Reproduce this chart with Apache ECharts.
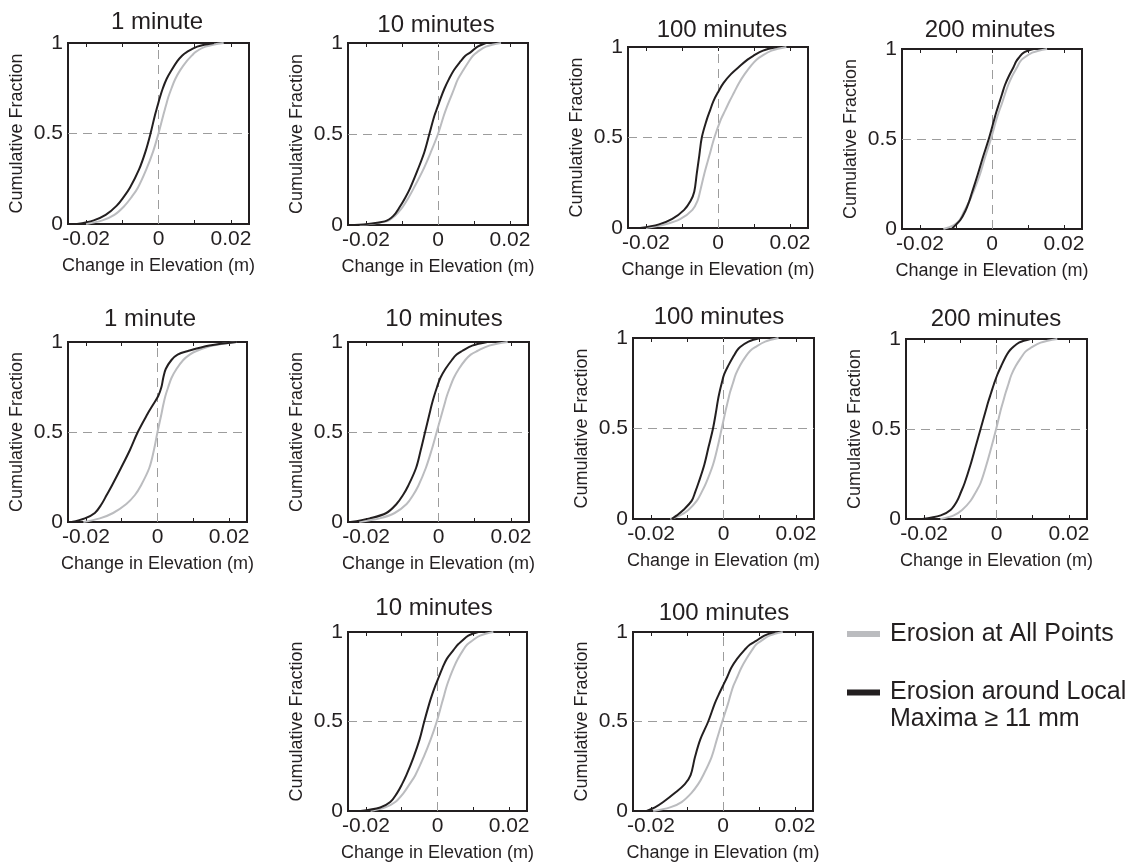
<!DOCTYPE html>
<html>
<head>
<meta charset="utf-8">
<script src="https://cdn.jsdelivr.net/npm/echarts@6/dist/echarts.min.js"></script>
<style>
html,body{margin:0;padding:0;background:#fff;}
#chart{width:1144px;height:865px;}
</style>
</head>
<body>
<div id="chart"></div>
<script>
// ---------- DATA ----------
// cumulative fraction levels (y) shared by every curve
const cdfLevels = [0, 0.02, 0.05, 0.1, 0.15, 0.2, 0.3, 0.4, 0.5, 0.6, 0.65, 0.7, 0.75, 0.8, 0.85, 0.9, 0.93, 0.95, 0.98, 1];

const panelTitles = ['1 minute', '10 minutes', '100 minutes', '200 minutes',
                     '1 minute', '10 minutes', '100 minutes', '200 minutes',
                     '10 minutes', '100 minutes'];

const seriesNames = ['Erosion at All Points', 'Erosion around Local Maxima \u2265 11 mm'];

// change in elevation (m) at each cumulative level — "all points" (gray) / "local maxima" (black)
const allR1_1 = [-0.0200,-0.0155,-0.0122,-0.0094,-0.0074,-0.0057,-0.0034,-0.0015,0.0000,0.0013,0.0020,0.0027,0.0036,0.0046,0.0060,0.0078,0.0092,0.0102,0.0130,0.0180];
const maxR1_1 = [-0.0225,-0.0179,-0.0146,-0.0116,-0.0096,-0.0079,-0.0054,-0.0036,-0.0022,-0.0010,-0.0003,0.0004,0.0012,0.0022,0.0036,0.0052,0.0065,0.0078,0.0107,0.0153];
const allR1_10 = [-0.0218,-0.0143,-0.0120,-0.0098,-0.0082,-0.0068,-0.0042,-0.0020,0.0000,0.0016,0.0025,0.0035,0.0045,0.0055,0.0070,0.0086,0.0097,0.0109,0.0133,0.0175];
const maxR1_10 = [-0.0232,-0.0148,-0.0124,-0.0106,-0.0091,-0.0078,-0.0057,-0.0038,-0.0024,-0.0010,-0.0001,0.0008,0.0018,0.0030,0.0044,0.0063,0.0076,0.0091,0.0110,0.0133];
const allR1_100 = [-0.0200,-0.0146,-0.0104,-0.0071,-0.0057,-0.0050,-0.0038,-0.0024,-0.0010,0.0008,0.0020,0.0032,0.0045,0.0058,0.0074,0.0093,0.0107,0.0121,0.0149,0.0190];
const maxR1_100 = [-0.0216,-0.0164,-0.0127,-0.0094,-0.0076,-0.0066,-0.0059,-0.0052,-0.0045,-0.0031,-0.0022,-0.0013,0.0000,0.0015,0.0036,0.0064,0.0082,0.0097,0.0125,0.0163];
const allR1_200 = [-0.0135,-0.0107,-0.0090,-0.0077,-0.0064,-0.0053,-0.0034,-0.0019,-0.0003,0.0011,0.0019,0.0028,0.0036,0.0045,0.0056,0.0070,0.0078,0.0088,0.0112,0.0153];
const maxR1_200 = [-0.0112,-0.0102,-0.0088,-0.0074,-0.0064,-0.0056,-0.0040,-0.0025,-0.0009,0.0005,0.0012,0.0020,0.0028,0.0036,0.0047,0.0060,0.0067,0.0074,0.0088,0.0116];

const allR2_1 = [-0.0207,-0.0161,-0.0124,-0.0087,-0.0063,-0.0047,-0.0023,-0.0010,0.0000,0.0011,0.0016,0.0022,0.0030,0.0039,0.0053,0.0072,0.0090,0.0109,0.0155,0.0220];
const maxR2_1 = [-0.0240,-0.0203,-0.0175,-0.0156,-0.0142,-0.0128,-0.0102,-0.0077,-0.0055,-0.0028,-0.0013,0.0002,0.0011,0.0016,0.0023,0.0039,0.0056,0.0085,0.0145,0.0220];
const allR2_10 = [-0.0219,-0.0163,-0.0121,-0.0088,-0.0070,-0.0056,-0.0035,-0.0019,-0.0005,0.0009,0.0016,0.0023,0.0032,0.0042,0.0056,0.0074,0.0089,0.0107,0.0140,0.0191];
const maxR2_10 = [-0.0243,-0.0190,-0.0144,-0.0116,-0.0098,-0.0084,-0.0062,-0.0049,-0.0037,-0.0025,-0.0019,-0.0012,-0.0004,0.0005,0.0019,0.0037,0.0050,0.0065,0.0093,0.0135];
const allR2_100 = [-0.0147,-0.0120,-0.0097,-0.0074,-0.0060,-0.0048,-0.0029,-0.0016,-0.0005,0.0006,0.0012,0.0018,0.0026,0.0034,0.0046,0.0062,0.0074,0.0088,0.0115,0.0152];
const maxR2_100 = [-0.0143,-0.0129,-0.0111,-0.0088,-0.0078,-0.0069,-0.0053,-0.0041,-0.0029,-0.0020,-0.0016,-0.0011,-0.0005,0.0002,0.0014,0.0028,0.0037,0.0046,0.0069,0.0101];
const allR2_200 = [-0.0155,-0.0118,-0.0095,-0.0072,-0.0057,-0.0044,-0.0028,-0.0014,-0.0001,0.0011,0.0018,0.0025,0.0033,0.0041,0.0053,0.0069,0.0080,0.0094,0.0122,0.0168];
const maxR2_200 = [-0.0205,-0.0154,-0.0127,-0.0109,-0.0098,-0.0088,-0.0072,-0.0058,-0.0044,-0.0030,-0.0023,-0.0015,-0.0007,0.0002,0.0013,0.0025,0.0034,0.0043,0.0062,0.0094];

const allR3_10 = [-0.0187,-0.0146,-0.0118,-0.0095,-0.0078,-0.0062,-0.0039,-0.0019,-0.0002,0.0012,0.0019,0.0026,0.0035,0.0045,0.0057,0.0072,0.0083,0.0096,0.0119,0.0156];
const maxR3_10 = [-0.0215,-0.0160,-0.0132,-0.0113,-0.0099,-0.0087,-0.0067,-0.0050,-0.0037,-0.0023,-0.0015,-0.0006,0.0004,0.0014,0.0026,0.0045,0.0057,0.0068,0.0086,0.0114];
const allR3_100 = [-0.0194,-0.0147,-0.0115,-0.0088,-0.0069,-0.0055,-0.0032,-0.0017,-0.0002,0.0014,0.0021,0.0029,0.0040,0.0051,0.0065,0.0081,0.0092,0.0106,0.0129,0.0166];
const maxR3_100 = [-0.0212,-0.0189,-0.0166,-0.0134,-0.0106,-0.0090,-0.0078,-0.0063,-0.0041,-0.0023,-0.0012,0.0000,0.0012,0.0023,0.0039,0.0060,0.0075,0.0092,0.0115,0.0143];

const panelAll = [allR1_1, allR1_10, allR1_100, allR1_200, allR2_1, allR2_10, allR2_100, allR2_200, allR3_10, allR3_100];
const panelMax = [maxR1_1, maxR1_10, maxR1_100, maxR1_200, maxR2_1, maxR2_10, maxR2_100, maxR2_200, maxR3_10, maxR3_100];

const xTickValues = [-0.02, -0.01, 0, 0.01, 0.02];
const xLabelValues = [-0.02, 0, 0.02];
const yLabelValues = [0, 0.5, 1];
const xName = 'Change in Elevation (m)';
const yName = 'Cumulative Fraction';

// ---------- LAYOUT (pixels) ----------
const gridBoxes = [
  [68, 43, 181, 181], [348, 43, 180, 182], [628, 47, 180, 181], [902, 49, 180, 180],
  [68, 342, 179, 180], [348, 342, 181, 180], [633, 338, 181, 181], [906, 339, 181, 180],
  [348, 632, 179, 179], [633, 632, 180, 179]
];
const titlePos = [
  [157, 22], [436, 25], [722, 30], [990, 30],
  [150, 319], [444, 319], [719, 317], [996, 319],
  [434, 608], [724, 613]
];

const INK = '#231f20';
const GRAY = '#bbbcbf';
const FONT = "'Liberation Sans', Arial, Helvetica, sans-serif";

const grids = [], xAxes = [], yAxes = [], series = [], titles = [];
const fmtX = v => (Math.abs(v) < 1e-9 ? '0' : v.toFixed(2));

gridBoxes.forEach((b, i) => {
  grids.push({ left: b[0], top: b[1], width: b[2], height: b[3], show: true,
               borderColor: INK, borderWidth: 2, backgroundColor: 'transparent' });
  // bottom x axis
  xAxes.push({
    type: 'value', gridIndex: i, min: -0.025, max: 0.025, position: 'bottom',
    name: xName, nameLocation: 'middle', nameGap: 33,
    nameTextStyle: { fontFamily: FONT, fontSize: 18, color: INK },
    axisLine: { show: false },
    axisTick: { show: true, inside: true, length: 4, customValues: xTickValues,
                lineStyle: { color: INK, width: 1 } },
    axisLabel: { show: true, customValues: xLabelValues, formatter: fmtX, margin: 5,
                 fontFamily: FONT, fontSize: 21, color: INK },
    splitLine: { show: false }
  });
  // top x axis (ticks only)
  xAxes.push({
    type: 'value', gridIndex: i, min: -0.025, max: 0.025, position: 'top',
    axisLine: { show: false },
    axisTick: { show: true, inside: true, length: 4, customValues: xTickValues,
                lineStyle: { color: INK, width: 1 } },
    axisLabel: { show: false },
    splitLine: { show: false }
  });
  yAxes.push({
    type: 'value', gridIndex: i, min: 0, max: 1,
    name: yName, nameLocation: 'middle', nameGap: 42,
    nameTextStyle: { fontFamily: FONT, fontSize: 18, color: INK },
    axisLine: { show: false },
    axisTick: { show: false },
    axisLabel: { show: true, customValues: yLabelValues, margin: 5,
                 formatter: v => String(v),
                 fontFamily: FONT, fontSize: 21, color: INK },
    splitLine: { show: false }
  });
  titles.push({
    text: panelTitles[i], left: titlePos[i][0], top: titlePos[i][1],
    textAlign: 'center', textVerticalAlign: 'middle', padding: 0,
    textStyle: { fontFamily: FONT, fontSize: 24, fontWeight: 'normal', color: INK }
  });
  const toPts = xs => cdfLevels.map((f, k) => [xs[k], f]);
  series.push({
    name: seriesNames[0], type: 'line', xAxisIndex: 2 * i, yAxisIndex: i,
    data: toPts(panelAll[i]), smooth: 0.35, showSymbol: false, symbol: 'none',
    lineStyle: { color: GRAY, width: 2 }, itemStyle: { color: GRAY }, z: 3,
    markLine: {
      silent: true, symbol: 'none', z: 1, animation: false,
      label: { show: false },
      lineStyle: { color: '#9d9d9d', width: 1, type: [9, 6] },
      data: [{ xAxis: 0 }, { yAxis: 0.5 }]
    }
  });
  series.push({
    name: seriesNames[1], type: 'line', xAxisIndex: 2 * i, yAxisIndex: i,
    data: toPts(panelMax[i]), smooth: 0.35, showSymbol: false, symbol: 'none',
    lineStyle: { color: INK, width: 2 }, itemStyle: { color: INK }, z: 4
  });
});

const chart = echarts.init(document.getElementById('chart'), null, { renderer: 'canvas' });
chart.setOption({
  animation: false,
  backgroundColor: '#ffffff',
  title: titles,
  grid: grids,
  xAxis: xAxes,
  yAxis: yAxes,
  legend: [
    { data: [seriesNames[0]], left: 847, top: 620, padding: 0, orient: 'vertical',
      icon: 'rect', itemWidth: 33, itemHeight: 6, selectedMode: false,
      textStyle: { fontFamily: FONT, fontSize: 25, color: INK, lineHeight: 28, padding: [0, 0, 0, 5] } },
    { data: [seriesNames[1]], left: 847, top: 652, padding: 0, orient: 'vertical',
      icon: 'rect', itemWidth: 33, itemHeight: 6, selectedMode: false,
      formatter: () => ' \nErosion around Local\nMaxima \u2265 11 mm',
      textStyle: { fontFamily: FONT, fontSize: 25, color: INK, lineHeight: 27, padding: [0, 0, 0, 5] } }
  ],
  series: series
});
</script>
</body>
</html>
